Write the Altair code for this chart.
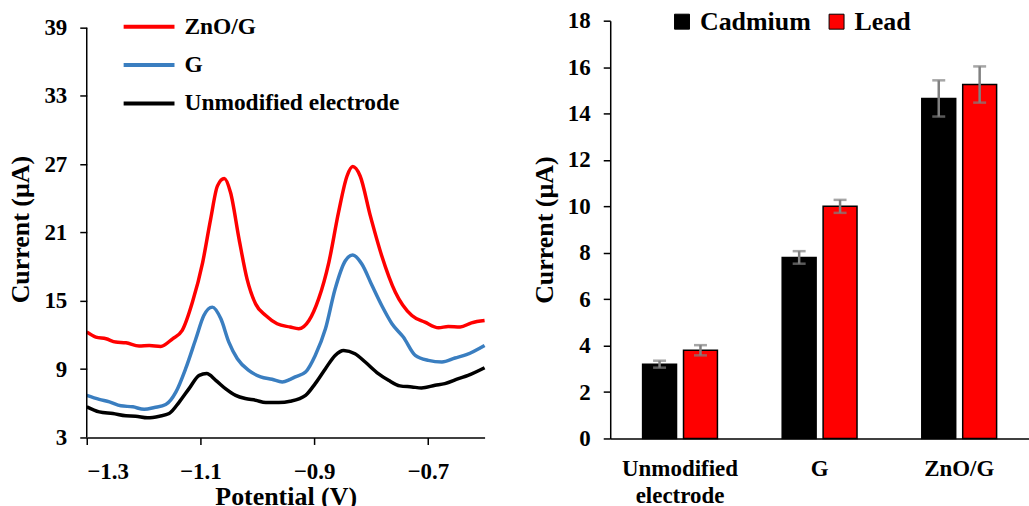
import altair as alt
import pandas as pd

# ---------- left panel: voltammograms ----------
series_names = ["ZnO/G", "G", "Unmodified electrode"]
series_colors = ["#FF0000", "#3A7EC0", "#000000"]

pot_zno = [-1.300,-1.284,-1.266,-1.249,-1.231,-1.208,-1.190,-1.170,-1.149,-1.132,
           -1.114,-1.096,-1.082,-1.070,-1.058,-1.047,-1.032,-1.018,-1.003,-0.985,
           -0.965,-0.942,-0.927,-0.909,-0.892,-0.874,-0.857,-0.842,-0.832,-0.819,
           -0.801,-0.781,-0.757,-0.728,-0.705,-0.681,-0.664,-0.643,-0.623,-0.600]
cur_zno = [12.26,11.82,11.67,11.38,11.32,11.03,11.08,11.00,11.67,12.40,
           14.89,18.39,22.18,25.10,25.75,24.52,20.43,16.93,14.74,13.71,
           12.99,12.70,12.55,13.27,15.17,18.39,22.77,25.97,26.80,25.97,
           22.47,18.97,15.76,13.71,13.13,12.63,12.75,12.70,13.07,13.27]

pot_g = [-1.300,-1.278,-1.260,-1.240,-1.219,-1.199,-1.181,-1.161,-1.143,-1.126,
         -1.108,-1.094,-1.079,-1.064,-1.050,-1.035,-1.015,-0.994,-0.974,-0.956,
         -0.942,-0.933,-0.915,-0.898,-0.880,-0.863,-0.845,-0.832,-0.816,-0.798,
         -0.781,-0.763,-0.743,-0.722,-0.699,-0.675,-0.652,-0.632,-0.600]
cur_g = [6.70,6.35,6.13,5.78,5.69,5.48,5.63,5.89,7.00,9.04,
         11.67,13.71,14.45,13.42,11.38,9.92,8.89,8.32,8.11,7.88,
         8.11,8.32,8.75,10.21,12.55,16.05,18.53,19.03,18.24,16.34,
         14.59,12.99,11.82,10.21,9.77,9.63,9.98,10.27,11.08]

pot_bare = [-1.300,-1.278,-1.254,-1.231,-1.214,-1.193,-1.172,-1.155,-1.137,-1.120,
            -1.102,-1.089,-1.073,-1.056,-1.038,-1.021,-1.003,-0.985,-0.962,-0.942,
            -0.915,-0.898,-0.880,-0.863,-0.848,-0.828,-0.810,-0.787,-0.769,-0.749,
            -0.728,-0.711,-0.687,-0.670,-0.646,-0.629,-0.600]
cur_bare = [5.69,5.25,5.10,4.90,4.87,4.73,4.87,5.10,6.13,7.29,
            8.46,8.61,8.02,7.29,6.70,6.42,6.27,6.07,6.07,6.18,
            6.70,7.73,9.04,10.21,10.65,10.36,9.63,8.61,8.02,7.53,
            7.44,7.35,7.58,7.73,8.17,8.46,9.13]

x_ticks = [-1.3, -1.1, -0.9, -0.7]
y_ticks_left = [3, 9, 15, 21, 27, 33, 39]
x_range_left = [-1.3, -0.6]
y_axis_left = [3, 39]
y_domain_left = [3, 39.613]

# ---------- right panel: bars ----------
electrodes = ["Unmodified electrode", "G", "ZnO/G"]
metals = ["Cadmium", "Lead"]
metal_colors = ["#000000", "#FF0000"]
cadmium_vals = [3.2, 7.8, 14.65]
cadmium_err = [0.15, 0.27, 0.78]
lead_vals = [3.8, 10.0, 15.25]
lead_err = [0.22, 0.28, 0.78]
y_ticks_right = [0, 2, 4, 6, 8, 10, 12, 14, 16, 18]

FONT = "Liberation Serif"

rows = []
for name, xs, ys in zip(series_names, [pot_zno, pot_g, pot_bare], [cur_zno, cur_g, cur_bare]):
    for i, (xv, yv) in enumerate(zip(xs, ys)):
        rows.append({"series": name, "potential": xv, "current": yv, "idx": i})
df_lines = pd.DataFrame(rows)

brows = []
for metal, vals, errs in [("Cadmium", cadmium_vals, cadmium_err), ("Lead", lead_vals, lead_err)]:
    for e, v, er in zip(electrodes, vals, errs):
        brows.append({"electrode": e, "metal": metal, "value": v, "lo": v - er, "hi": v + er})
df_bars = pd.DataFrame(brows)

xs_left = alt.Scale(domain=x_range_left, nice=False, zero=False)
ys_left = alt.Scale(domain=y_domain_left, nice=False, zero=False)

lines = alt.Chart(df_lines).mark_line(strokeWidth=3.5, interpolate="monotone").encode(
    x=alt.X("potential:Q", scale=xs_left,
            axis=alt.Axis(values=x_ticks, format=".1f", title="Potential (V)",
                          labelPadding=16, titlePadding=0)),
    y=alt.Y("current:Q", scale=ys_left,
            axis=alt.Axis(values=y_ticks_left, title="Current (µA)", domain=False,
                          labelPadding=13, titlePadding=10)),
    color=alt.Color("series:N",
                    scale=alt.Scale(domain=series_names, range=series_colors),
                    legend=alt.Legend(title=None, orient="none", direction="vertical",
                                      legendX=35, legendY=-7, padding=0,
                                      symbolType="stroke", symbolSize=2601,
                                      symbolStrokeWidth=4, labelFontSize=23.5,
                                      labelLimit=400, clipHeight=26,
                                      labelOffset=8, rowPadding=12.5)),
    order="idx:Q",
    detail="series:N",
)

axis_line = alt.Chart(pd.DataFrame({"lo": [y_axis_left[0]], "hi": [y_axis_left[1]],
                                    "x": [x_range_left[0]]})).mark_rule(
    color="black", strokeWidth=1.5).encode(
    x=alt.X("x:Q", scale=xs_left), y=alt.Y("lo:Q", scale=ys_left), y2="hi:Q")

left = alt.layer(lines, axis_line).properties(width=399, height=418)

ref_scale_x = alt.Scale(domain=electrodes, paddingInner=0.464, paddingOuter=0.232)
off_scale = alt.Scale(domain=metals, paddingInner=0.171, paddingOuter=0)

bars = alt.Chart(df_bars).mark_bar(stroke="black", strokeWidth=1.5).encode(
    x=alt.X("electrode:N", scale=ref_scale_x, sort=electrodes,
            axis=alt.Axis(title=None, labelAngle=0, ticks=False, labelPadding=19,
                          labelLineHeight=27,
                          labelExpr="datum.label == 'Unmodified electrode' ? ['Unmodified', 'electrode'] : datum.label")),
    xOffset=alt.XOffset("metal:N", scale=off_scale, sort=metals),
    y=alt.Y("value:Q", scale=alt.Scale(domain=[0, 18], nice=False),
            axis=alt.Axis(values=y_ticks_right, title="Current (µA)",
                          labelPadding=13, titlePadding=10)),
    color=alt.Color("metal:N", scale=alt.Scale(domain=metals, range=metal_colors),
                    legend=alt.Legend(title=None, orient="none", direction="horizontal",
                                      legendX=59, legendY=-12, padding=0, symbolType="square",
                                      symbolSize=225, symbolStrokeColor="black",
                                      symbolStrokeWidth=1, labelFontSize=26,
                                      labelOffset=5, columnPadding=12)),
)

err_rule = alt.Chart(df_bars).mark_rule(color="#808080", strokeWidth=2.5).encode(
    x=alt.X("electrode:N", scale=ref_scale_x, sort=electrodes),
    xOffset=alt.XOffset("metal:N", scale=off_scale, sort=metals),
    y="lo:Q", y2="hi:Q",
)
cap_lo = alt.Chart(df_bars).mark_tick(color="#808080", thickness=2.5, size=13, orient="horizontal").encode(
    x=alt.X("electrode:N", scale=ref_scale_x, sort=electrodes),
    xOffset=alt.XOffset("metal:N", scale=off_scale, sort=metals),
    y="lo:Q",
)
cap_hi = alt.Chart(df_bars).mark_tick(color="#808080", thickness=2.5, size=13, orient="horizontal").encode(
    x=alt.X("electrode:N", scale=ref_scale_x, sort=electrodes),
    xOffset=alt.XOffset("metal:N", scale=off_scale, sort=metals),
    y="hi:Q",
)

right = alt.layer(bars, err_rule, cap_lo, cap_hi).properties(width=420, height=419)

chart = alt.hconcat(left, right, spacing=40).resolve_scale(
    color="independent", x="independent", y="independent", xOffset="independent"
).resolve_legend(color="independent").properties(
    padding={"left": 8, "top": 8, "right": 0, "bottom": 0}
).configure_view(strokeWidth=0).configure_axis(
    grid=False, domainColor="black", tickColor="black", domainWidth=1.5, tickWidth=1.5,
    tickSize=7, labelFont=FONT, labelFontWeight="bold", labelFontSize=23,
    labelColor="black", titleFont=FONT, titleFontWeight="bold", titleFontSize=26,
    titleColor="black",
).configure_legend(
    labelFont=FONT, labelFontWeight="bold", labelColor="black",
)

chart.save("out.html", embed_options={"renderer": "svg", "actions": False})
